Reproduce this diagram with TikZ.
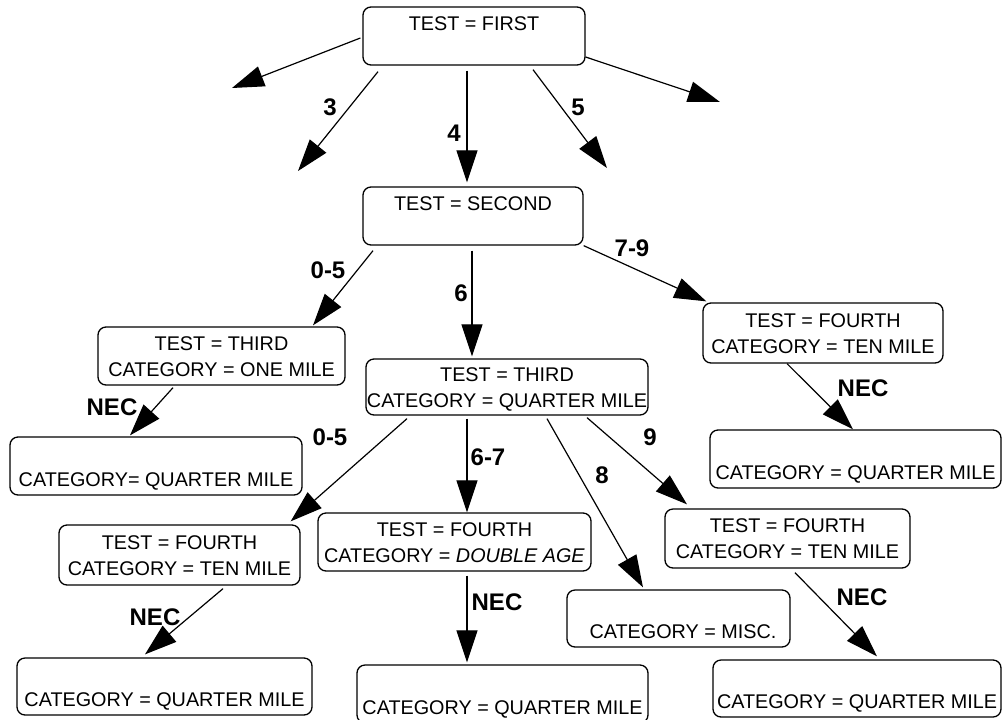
\documentclass[tikz,border=0pt]{standalone}
\usepackage{fontspec}
\setmainfont{Liberation Sans}
\usetikzlibrary{arrows.meta,calc}
\newcommand{\mystrut}{\rule[-2pt]{0pt}{11pt}}
\tikzset{
  box/.style={draw, rounded corners=4pt, line width=0.65pt, align=center, inner sep=0pt,
    font=\fontsize{9.9}{13}\selectfont},
  lbl/.style={font=\fontsize{12}{14}\selectfont\bfseries, inner sep=0pt},
  conn/.style={line width=0.6pt, -{Triangle[length=16pt,width=10.5pt]}},
}
\begin{document}
\begin{tikzpicture}[x=0.5pt,y=-0.5pt]
\path[use as bounding box] (0,0) rectangle (1002,719);
\clip (0,0) rectangle (1002,719);
% boxes
\node[box, minimum width=111pt, minimum height=29pt] (first) at (474,36) {\mystrut TEST = FIRST\\\mystrut};
\node[box, minimum width=110pt, minimum height=29pt] (second) at (473,216) {\mystrut TEST = SECOND\\\mystrut};
\node[box, minimum width=123.5pt, minimum height=29pt] (third1) at (221.5,356) {\mystrut TEST = THIRD\\\mystrut CATEGORY = ONE MILE};
\node[box, minimum width=146pt, minimum height=29pt] (leafA) at (156,466) {\mystrut\\\mystrut CATEGORY= QUARTER MILE};
\node[box, minimum width=141pt, minimum height=28pt] (third2) at (507,387) {\mystrut TEST = THIRD\\\mystrut CATEGORY = QUARTER MILE};
\node[box, minimum width=120pt, minimum height=30pt] (fourthR) at (823,333) {\mystrut TEST = FOURTH\\\mystrut CATEGORY = TEN MILE};
\node[box, minimum width=145.5pt, minimum height=29pt] (leafR) at (855.5,459) {\mystrut\\\mystrut CATEGORY = QUARTER MILE};
\node[box, minimum width=120.5pt, minimum height=30pt] (fourthL) at (179.5,555) {\mystrut TEST = FOURTH\\\mystrut CATEGORY = TEN MILE};
\node[box, minimum width=147.5pt, minimum height=28.5pt] (leafBL) at (164.5,686.5) {\mystrut\\\mystrut CATEGORY = QUARTER MILE};
\node[box, minimum width=136.5pt, minimum height=29pt] (fourthD) at (454.5,542) {\mystrut TEST = FOURTH\\\mystrut CATEGORY = \textit{DOUBLE AGE}};
\node[box, minimum width=145.5pt, minimum height=29pt] (leafBM) at (502.5,694) {\mystrut\\\mystrut CATEGORY = QUARTER MILE};
\node[box, minimum width=111.5pt, minimum height=28.5pt] (misc) at (678.5,618.5) {\mystrut\\\mystrut\hspace*{4.5pt}CATEGORY = MISC.};
\node[box, minimum width=122.5pt, minimum height=29.5pt] (fourthR2) at (787.5,538.5) {\mystrut TEST = FOURTH\\\mystrut CATEGORY = TEN MILE};
\node[box, minimum width=144pt, minimum height=28.5pt] (leafBR) at (857,688.5) {\mystrut\\\mystrut CATEGORY = QUARTER MILE};
% free ends
\coordinate (fa) at (232,88);
\coordinate (f3) at (298,171);
\coordinate (f5) at (607,168);
\coordinate (fb) at (720,102);
% connectors
\draw[conn] ($(first.west)+(-2,2)$) -- (fa);
\draw[conn] ($(first.south)+(-96,6)$) -- (f3);
\draw[conn] ($(first.south)+(-7,5)$) -- ($(second.north)+(-6,-4)$);
\draw[conn] ($(first.south)+(59,4)$) -- (f5);
\draw[conn] ($(first.east)+(0,21)$) -- (fb);
\draw[conn] ($(second.south)+(-100,5)$) -- ($(third1.north)+(91.5,-1)$);
\draw[conn] ($(second.south)+(-1,5)$) -- ($(third2.north)+(-35,-2)$);
\draw[conn] (second.south east) -- ($(fourthR.north west)+(4,-1)$);
\draw[conn] ($(third1.south)+(-48.5,2)$) -- ($(leafA.north)+(-26,-1)$);
\draw[conn] ($(third2.south)+(-100,3)$) -- ($(fourthL.north east)+(-10,-3)$);
\draw[conn] ($(third2.south)+(-40,3)$) -- ($(fourthD.north)+(12.5,0)$);
\draw[conn] ($(third2.south)+(40,3)$) -- ($(misc.north)+(-35.5,-2)$);
\draw[conn] ($(third2.south)+(80,2)$) -- ($(fourthR2.north)+(-100.5,-4)$);
\draw[conn] ($(fourthR.south)+(-36,0)$) -- ($(leafR.north)+(-2.5,0)$);
\draw[conn] ($(fourthL.south)+(43.5,3)$) -- ($(leafBL.north)+(-19.5,-3)$);
\draw[conn] ($(fourthD.south)+(12.5,4)$) -- ($(leafBM.north)+(-35.5,-2)$);
\draw[conn] ($(fourthR2.south)+(7.5,4)$) -- ($(leafBR.north)+(20,-3)$);
% labels
\node[lbl] (l3) at (330,107) {3};
\node[lbl] (l4) at (454,133) {4};
\node[lbl] (l5) at (578,107) {5};
\node[lbl] (l05a) at (328,270) {0-5};
\node[lbl] (l6) at (461,293) {6};
\node[lbl] (l79) at (632,248) {7-9};
\node[lbl] (lnec1) at (112,407) {NEC};
\node[lbl] (l05b) at (330,437) {0-5};
\node[lbl] (l67) at (488,457) {6-7};
\node[lbl] (l8) at (602,475) {8};
\node[lbl] (l9) at (650,437) {9};
\node[lbl] (lnecR) at (863,388) {NEC};
\node[lbl] (lnecL) at (155,617) {NEC};
\node[lbl] (lnecM) at (497,602) {NEC};
\node[lbl] (lnecBR) at (862,597) {NEC};
\end{tikzpicture}
\end{document}
